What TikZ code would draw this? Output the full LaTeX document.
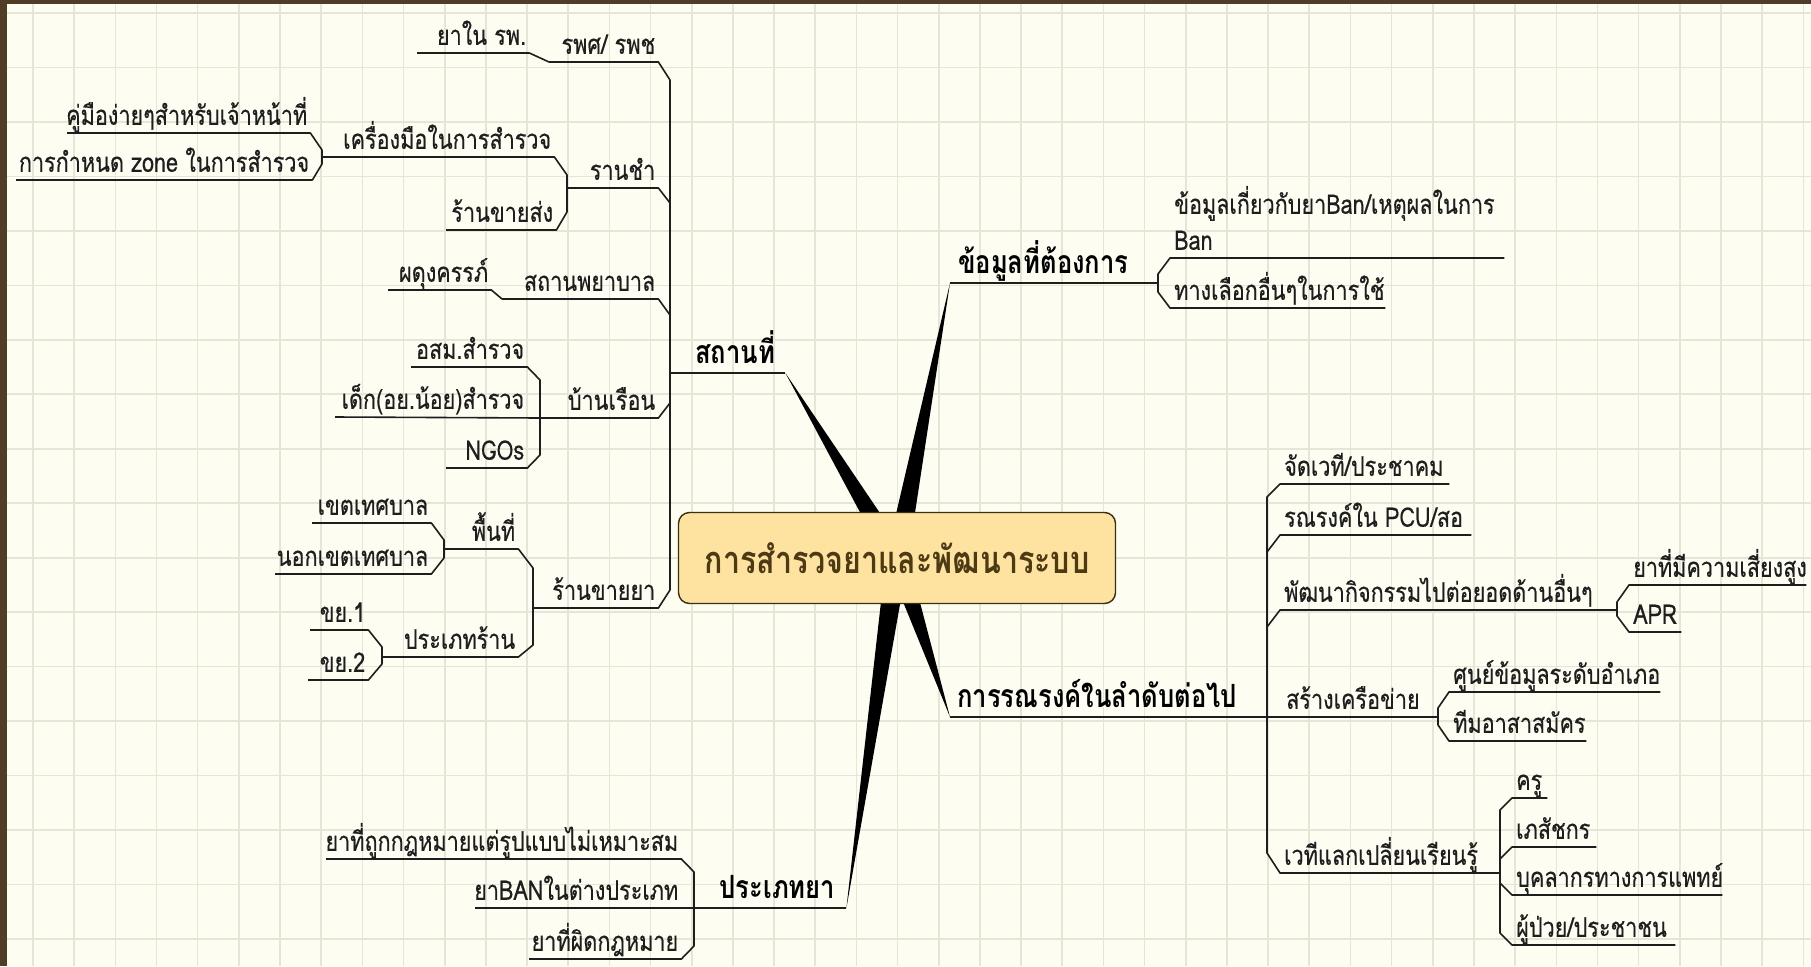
\documentclass[tikz,border=0pt]{standalone}
\usepackage{fontspec}
\newfontfamily\thai[Script=Thai,FakeStretch=0.8,FakeBold=0.4]{Loma}
\newfontfamily\thaiB[Script=Thai,FakeStretch=0.8]{Loma}
\usetikzlibrary{calc}
\pgfdeclarelayer{bg}\pgfdeclarelayer{mid}
\pgfsetlayers{bg,mid,main}
\definecolor{paper}{RGB}{253,253,242}
\definecolor{gridc}{RGB}{229,230,216}
\definecolor{frame}{RGB}{80,61,40}
\definecolor{ink}{RGB}{30,30,30}
\definecolor{boxfill}{RGB}{254,226,160}
\definecolor{boxline}{RGB}{60,45,20}
\definecolor{boxtext}{RGB}{75,58,20}
\tikzset{
 tp/.style={inner sep=0pt, text depth=8pt, text=ink, font=\thai\fontsize{27}{30}\selectfont},
 mainlbl/.style={font=\thaiB\bfseries\fontsize{32}{35}\selectfont, text=black, text depth=9pt},
 ul/.style={draw=ink, line width=1.6pt, line join=round},
 gridl/.style={draw=gridc, line width=1.6pt},
 centre/.style={draw=boxline, fill=boxfill, line width=1.4pt, rounded corners=11pt,
   minimum width=437pt, minimum height=91pt, inner sep=0pt,
   font=\thaiB\bfseries\fontsize{38}{42}\selectfont, text=boxtext},
}
\newcommand\TL[6][]{\pgfmathsetlengthmacro\tw{#4-#3}\node[tp,#1,anchor=south west] (#2) at (#3,#5) {\makebox[\tw][r]{#6\hspace*{3pt}}};}
\newcommand\TR[6][]{\pgfmathsetlengthmacro\tw{#4-#3}\node[tp,#1,anchor=south west] (#2) at (#3,#5) {\makebox[\tw][l]{\hspace*{4pt}#6}};}
\begin{document}
\begin{tikzpicture}[x=1pt,y=-1pt]
\useasboundingbox (0,0) rectangle (1811,966);
\begin{pgfonlayer}{bg}
\fill[paper] (0,0) rectangle (1811,966);
\foreach \i in {0,...,43} \draw[gridl] ({33+41.17*\i},0) -- ({33+41.17*\i},966);
\foreach \i in {0,...,17} \draw[gridl] (0,{13+54.47*\i}) -- (1811,{13+54.47*\i});
\fill[frame] (0,0) rectangle (7,966);
\fill[frame] (0,0) rectangle (1811,4);
\end{pgfonlayer}

% centre
\node[centre] (ctr) at (897,558) {การสำรวจยาและพัฒนาระบบ};
\coordinate (cc) at (897,558);

% left subtree
\TL[mainlbl]{A}{670}{785}{373}{สถานที่\hspace*{7pt}}
\TL{A1}{549}{658}{62}{รพศ/ รพช}
\TL{A2}{567}{658}{188}{รานชำ}
\TL{A3}{502}{658}{299}{สถานพยาบาล}
\TL{A4}{540}{658}{418}{บ้านเรือน}
\TL{A5}{533}{658}{608}{ร้านขายยา}
\TL{A11}{417}{529}{53}{ยาใน รพ.}
\TL{A21}{322}{554}{157}{เครื่องมือในการสำรวจ}
\TL{A22}{446}{556}{230}{ร้านขายส่ง}
\TL{A211}{67}{310}{133}{คู่มือง่ายๆสำหรับเจ้าหน้าที่}
\TL{A212}{16}{312}{180}{การกำหนด zone ในการสำรวจ}
\TL{A31}{388}{491}{290}{ผดุงครรภ์}
\TL{A41}{411}{527}{367}{อสม.สำรวจ}
\TL{A42}{335}{527}{417}{เด็ก(อย.น้อย)สำรวจ}
\TL{A43}{446}{527}{468}{NGOs}
\TL{A51}{444}{518}{549}{พื้นที่}
\TL{A52}{382}{518}{657}{ประเภทร้าน}
\TL{A511}{312}{431}{523}{เขตเทศบาล}
\TL{A512}{275}{431}{574}{นอกเขตเทศบาล}
\TL{A521}{310}{368}{630}{ขย.1}
\TL{A522}{308}{368}{680}{ขย.2}

% bottom subtree
\TL[mainlbl]{B}{694}{846}{908}{ประเภทยา\hspace*{8pt}}
\TL{B1}{326}{681}{859}{ยาที่ถูกกฎหมายแต่รูปแบบไม่เหมาะสม}
\TL{B2}{475}{681}{908}{ยาBANในต่างประเภท}
\TL{B3}{529}{681}{959}{ยาที่ผิดกฎหมาย}

% right top subtree
\TR[mainlbl]{C}{950}{1157}{283}{\hspace*{4pt}ข้อมูลที่ต้องการ}
\pgfmathsetlengthmacro\tw{1504-1170}
\node[tp,anchor=south west] (C1) at (1170,258) {\makebox[\tw][l]{\hspace*{4pt}\fontsize{27}{36}\selectfont\begin{tabular}[b]{@{}l@{}}ข้อมูลเกี่ยวกับยาBan/เหตุผลในการ\\Ban\end{tabular}}};
\TR{C2}{1170}{1385}{308}{ทางเลือกอื่นๆในการใช้}

% right bottom subtree
\TR[mainlbl]{D}{950}{1267}{717}{\hspace*{3pt}การรณรงค์ในลำดับต่อไป}
\TR{D1}{1280}{1449}{484}{จัดเวที/ประชาคม}
\TR{D2}{1280}{1471}{535}{รณรงค์ใน PCU/สอ}
\TR{D3}{1280}{1617}{610}{พัฒนากิจกรรมไปต่อยอดด้านอื่นๆ}
\TR{D4}{1267}{1438}{717}{\hspace*{15pt}สร้างเครือข่าย}
\TR{D5}{1280}{1500}{873}{เวทีแลกเปลี่ยนเรียนรู้}
\TR{D31}{1629}{1806}{585}{ยาที่มีความเสี่ยงสูง}
\TR{D32}{1629}{1681}{632}{APR}
\TR{D41}{1449}{1660}{692}{ศูนย์ข้อมูลระดับอำเภอ}
\TR{D42}{1449}{1586}{741}{ทีมอาสาสมัคร}
\TR{D51}{1512}{1547}{798}{ครู}
\TR{D52}{1512}{1596}{847}{เภสัชกร}
\TR{D53}{1512}{1722}{895}{บุคลากรทางการแพทย์}
\TR{D54}{1512}{1675}{945}{ผู้ป่วย/ประชาชน}

% junction coordinates
\coordinate (aT) at (670,80);  \coordinate (aB) at (670,590);
\coordinate (aJ2) at (670,203); \coordinate (aJ3) at (670,315); \coordinate (aJ4) at (670,403);
\coordinate (a2s1) at (567,175); \coordinate (a2s2) at (567,212);
\coordinate (a21s1) at (322,150); \coordinate (a21s2) at (322,164);
\coordinate (a4s1) at (540,380); \coordinate (a4s2) at (540,455);
\coordinate (a51s1) at (444,540); \coordinate (a51s2) at (444,558);
\coordinate (a52s1) at (382,647); \coordinate (a52s2) at (382,664);
\coordinate (a5s1) at (533,568); \coordinate (a5s2) at (533,645);
\coordinate (bs1) at (694,872); \coordinate (bs2) at (694,946);
\coordinate (cs1) at (1158,274); \coordinate (cs2) at (1158,292);
\coordinate (dT) at (1267,497); \coordinate (dB) at (1267,853);
\coordinate (dJ2) at (1267,552); \coordinate (dJ3) at (1267,627);
\coordinate (d3s1) at (1617,602); \coordinate (d3s2) at (1617,616);
\coordinate (d4s1) at (1438,708); \coordinate (d4s2) at (1438,725);
\coordinate (d5s1) at (1500,810); \coordinate (d5s2) at (1500,933);
\coordinate (d5J2) at (1500,859); \coordinate (d5J3) at (1500,883);

% connectors, left
\draw[ul] (A.south west) -- (A.south east);
\draw[ul] (A1.south west) -- (A1.south east) -- (aT) -- (aB) -- (A5.south east) -- (A5.south west);
\draw[ul] (A2.south west) -- (A2.south east) -- (aJ2);
\draw[ul] (A3.south west) -- (A3.south east) -- (aJ3);
\draw[ul] (A4.south west) -- (A4.south east) -- (aJ4);
\draw[ul] (A11.south west) -- (A11.south east) -- (A1.south west);
\draw[ul] (A21.south west) -- (A21.south east) -- (a2s1) -- (a2s2) -- (A22.south east) -- (A22.south west);
\draw[ul] (A211.south west) -- (A211.south east) -- (a21s1) -- (a21s2) -- (A212.south east) -- (A212.south west);
\draw[ul] (A31.south west) -- (A31.south east) -- (A3.south west);
\draw[ul] (A41.south west) -- (A41.south east) -- (a4s1) -- (a4s2) -- (A43.south east) -- (A43.south west);
\draw[ul] (A42.south west) -- (A4.south west);
\draw[ul] (A511.south west) -- (A511.south east) -- (a51s1) -- (a51s2) -- (A512.south east) -- (A512.south west);
\draw[ul] (A521.south west) -- (A521.south east) -- (a52s1) -- (a52s2) -- (A522.south east) -- (A522.south west);
\draw[ul] (A51.south west) -- (A51.south east) -- (a5s1) -- (a5s2) -- (A52.south east) -- (A52.south west);
% bottom
\draw[ul] (B.south west) -- (B.south east);
\draw[ul] (B1.south west) -- (B1.south east) -- (bs1) -- (bs2) -- (B3.south east) -- (B3.south west);
\draw[ul] (B2.south west) -- (B.south west);
% right top
\draw[ul] (C.south west) -- (C.south east);
\draw[ul] (C1.south east) -- (C1.south west) -- (cs1) -- (cs2) -- (C2.south west) -- (C2.south east);
% right bottom
\draw[ul] (D.south west) -- (D.south east);
\draw[ul] (D4.south west) -- (D4.south east);
\draw[ul] (D1.south east) -- (D1.south west) -- (dT) -- (dB) -- (D5.south west) -- (D5.south east);
\draw[ul] (D2.south east) -- (D2.south west) -- (dJ2);
\draw[ul] (D3.south east) -- (D3.south west) -- (dJ3);
\draw[ul] (D31.south east) -- (D31.south west) -- (d3s1) -- (d3s2) -- (D32.south west) -- (D32.south east);
\draw[ul] (D41.south east) -- (D41.south west) -- (d4s1) -- (d4s2) -- (D42.south west) -- (D42.south east);
\draw[ul] (D51.south east) -- (D51.south west) -- (d5s1) -- (d5s2) -- (D54.south west) -- (D54.south east);
\draw[ul] (D52.south east) -- (D52.south west) -- (d5J2);
\draw[ul] (D53.south east) -- (D53.south west) -- (d5J3);

% wedges to the centre
\begin{pgfonlayer}{mid}
\foreach \t in {A.south east, C.south west, B.south east, D.south west}
  \fill[black] (\t) -- ($(cc)!11pt!90:(\t)$) -- ($(cc)!11pt!-90:(\t)$) -- cycle;
\end{pgfonlayer}
\end{tikzpicture}
\end{document}
